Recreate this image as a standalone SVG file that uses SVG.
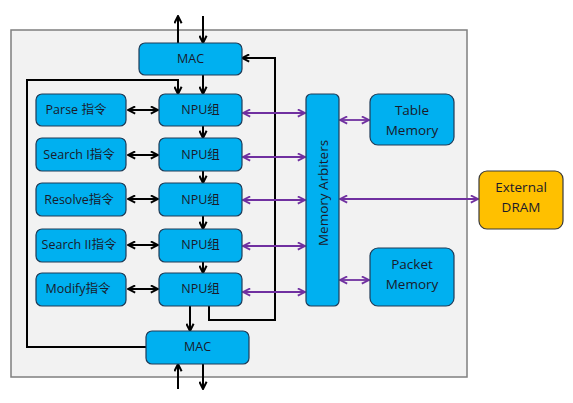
<svg xmlns="http://www.w3.org/2000/svg" width="573" height="403" viewBox="0 0 573 403">
<defs>
<style>
.box{fill:#00b0f0;stroke:#1f3b57;stroke-width:1.2}
.dram{fill:#ffc000;stroke:#3a3a3a;stroke-width:1.2}
.t{font-family:"Open Sans","Noto Sans CJK SC",sans-serif;font-size:12.5px;fill:#1a1a2a;text-anchor:middle;dominant-baseline:central}
.tm{font-family:"Open Sans","Noto Sans CJK SC",sans-serif;font-size:13.5px;fill:#1a1a2a;text-anchor:middle}
.k{fill:none;stroke:#000;stroke-width:2}
.p{fill:none;stroke:#7030a0;stroke-width:1.8}
</style>
<marker id="ak" viewBox="0 0 10 10" refX="9" refY="5" markerWidth="9" markerHeight="9" orient="auto-start-reverse" markerUnits="userSpaceOnUse"><polyline points="1,1 9,5 1,9" fill="none" stroke="#000" stroke-width="2.2"/></marker>
<marker id="ap" viewBox="0 0 10 10" refX="9" refY="5" markerWidth="9" markerHeight="9" orient="auto-start-reverse" markerUnits="userSpaceOnUse"><polyline points="1,1 9,5 1,9" fill="none" stroke="#7030a0" stroke-width="2"/></marker>
</defs>
<rect x="11" y="30" width="456" height="347" fill="#f2f2f2" stroke="#7f7f7f" stroke-width="1.5"/>
<g id="connectors">
<line class="k" x1="178" y1="43" x2="178" y2="16" marker-end="url(#ak)"/>
<line class="k" x1="203" y1="16" x2="203" y2="43" marker-end="url(#ak)"/>
<line class="k" x1="203" y1="75" x2="203" y2="94" marker-end="url(#ak)"/>
<polyline class="k" points="146,347 27,347 27,80 178,80 178,94" marker-end="url(#ak)"/>
<polyline class="k" points="209,306 209,320 275,320 275,58 242,58" marker-end="url(#ak)"/>
<line class="k" x1="203" y1="126" x2="203" y2="138" marker-end="url(#ak)"/>
<line class="k" x1="203" y1="171" x2="203" y2="183" marker-end="url(#ak)"/>
<line class="k" x1="203" y1="216" x2="203" y2="229" marker-end="url(#ak)"/>
<line class="k" x1="203" y1="262" x2="203" y2="273" marker-end="url(#ak)"/>
<line class="k" x1="190" y1="306" x2="190" y2="331" marker-end="url(#ak)"/>
<line class="k" x1="178" y1="389" x2="178" y2="364" marker-end="url(#ak)"/>
<line class="k" x1="203" y1="364" x2="203" y2="389" marker-end="url(#ak)"/>
<line class="k" x1="128" y1="110" x2="158" y2="110" marker-start="url(#ak)" marker-end="url(#ak)"/>
<line class="k" x1="128" y1="155" x2="158" y2="155" marker-start="url(#ak)" marker-end="url(#ak)"/>
<line class="k" x1="128" y1="199" x2="158" y2="199" marker-start="url(#ak)" marker-end="url(#ak)"/>
<line class="k" x1="128" y1="245" x2="158" y2="245" marker-start="url(#ak)" marker-end="url(#ak)"/>
<line class="k" x1="128" y1="289" x2="158" y2="289" marker-start="url(#ak)" marker-end="url(#ak)"/>
<line class="p" x1="243" y1="113" x2="305" y2="113" marker-start="url(#ap)" marker-end="url(#ap)"/>
<line class="p" x1="243" y1="157" x2="305" y2="157" marker-start="url(#ap)" marker-end="url(#ap)"/>
<line class="p" x1="243" y1="200" x2="305" y2="200" marker-start="url(#ap)" marker-end="url(#ap)"/>
<line class="p" x1="243" y1="246" x2="305" y2="246" marker-start="url(#ap)" marker-end="url(#ap)"/>
<line class="p" x1="243" y1="292" x2="305" y2="292" marker-start="url(#ap)" marker-end="url(#ap)"/>
<line class="p" x1="340" y1="120" x2="369" y2="120" marker-start="url(#ap)" marker-end="url(#ap)"/>
<line class="p" x1="340" y1="280" x2="369" y2="280" marker-start="url(#ap)" marker-end="url(#ap)"/>
<line class="p" x1="340" y1="199" x2="478" y2="199" marker-start="url(#ap)" marker-end="url(#ap)"/>
</g>
<g id="mac-top"><rect class="box" x="139" y="43" width="103" height="32" rx="6"/><text class="t" x="190.5" y="58">MAC</text></g>
<g id="mac-bottom"><rect class="box" x="146" y="331" width="103" height="33" rx="6"/><text class="t" x="197.5" y="346">MAC</text></g>
<g id="instr-parse"><rect class="box" x="36" y="94" width="90" height="32" rx="6"/><text class="t" x="76" y="109">Parse 指令</text></g>
<g id="instr-search1"><rect class="box" x="36" y="138" width="90" height="33" rx="6"/><text class="t" x="79" y="154">Search I指令</text></g>
<g id="instr-resolve"><rect class="box" x="36" y="183" width="90" height="33" rx="6"/><text class="t" x="79" y="199">Resolve指令</text></g>
<g id="instr-search2"><rect class="box" x="36" y="229" width="90" height="33" rx="6"/><text class="t" x="79" y="244">Search II指令</text></g>
<g id="instr-modify"><rect class="box" x="36" y="273" width="90" height="33" rx="6"/><text class="t" x="78" y="288">Modify指令</text></g>
<g id="npu1"><rect class="box" x="159" y="94" width="83" height="32" rx="6"/><text class="t" x="200.5" y="109">NPU组</text></g>
<g id="npu2"><rect class="box" x="159" y="138" width="83" height="33" rx="6"/><text class="t" x="200.5" y="154">NPU组</text></g>
<g id="npu3"><rect class="box" x="159" y="183" width="83" height="33" rx="6"/><text class="t" x="200.5" y="199">NPU组</text></g>
<g id="npu4"><rect class="box" x="159" y="229" width="83" height="33" rx="6"/><text class="t" x="200.5" y="244">NPU组</text></g>
<g id="npu5"><rect class="box" x="159" y="273" width="83" height="33" rx="6"/><text class="t" x="200.5" y="288">NPU组</text></g>
<g id="arbiters"><rect class="box" x="306" y="94" width="33" height="212" rx="5"/><text class="tm" x="0" y="0" dominant-baseline="central" transform="translate(322.5 193) rotate(-90)">Memory Arbiters</text></g>
<g id="table-memory"><rect class="box" x="370" y="94" width="84" height="51" rx="8"/><text class="tm" x="412" y="115">Table</text><text class="tm" x="412" y="135">Memory</text></g>
<g id="packet-memory"><rect class="box" x="370" y="248" width="84" height="58" rx="8"/><text class="tm" x="412" y="269">Packet</text><text class="tm" x="412" y="289">Memory</text></g>
<g id="external-dram"><rect class="dram" x="479" y="171" width="84" height="58" rx="8"/><text class="tm" x="521" y="192">External</text><text class="tm" x="521" y="212">DRAM</text></g>
</svg>
